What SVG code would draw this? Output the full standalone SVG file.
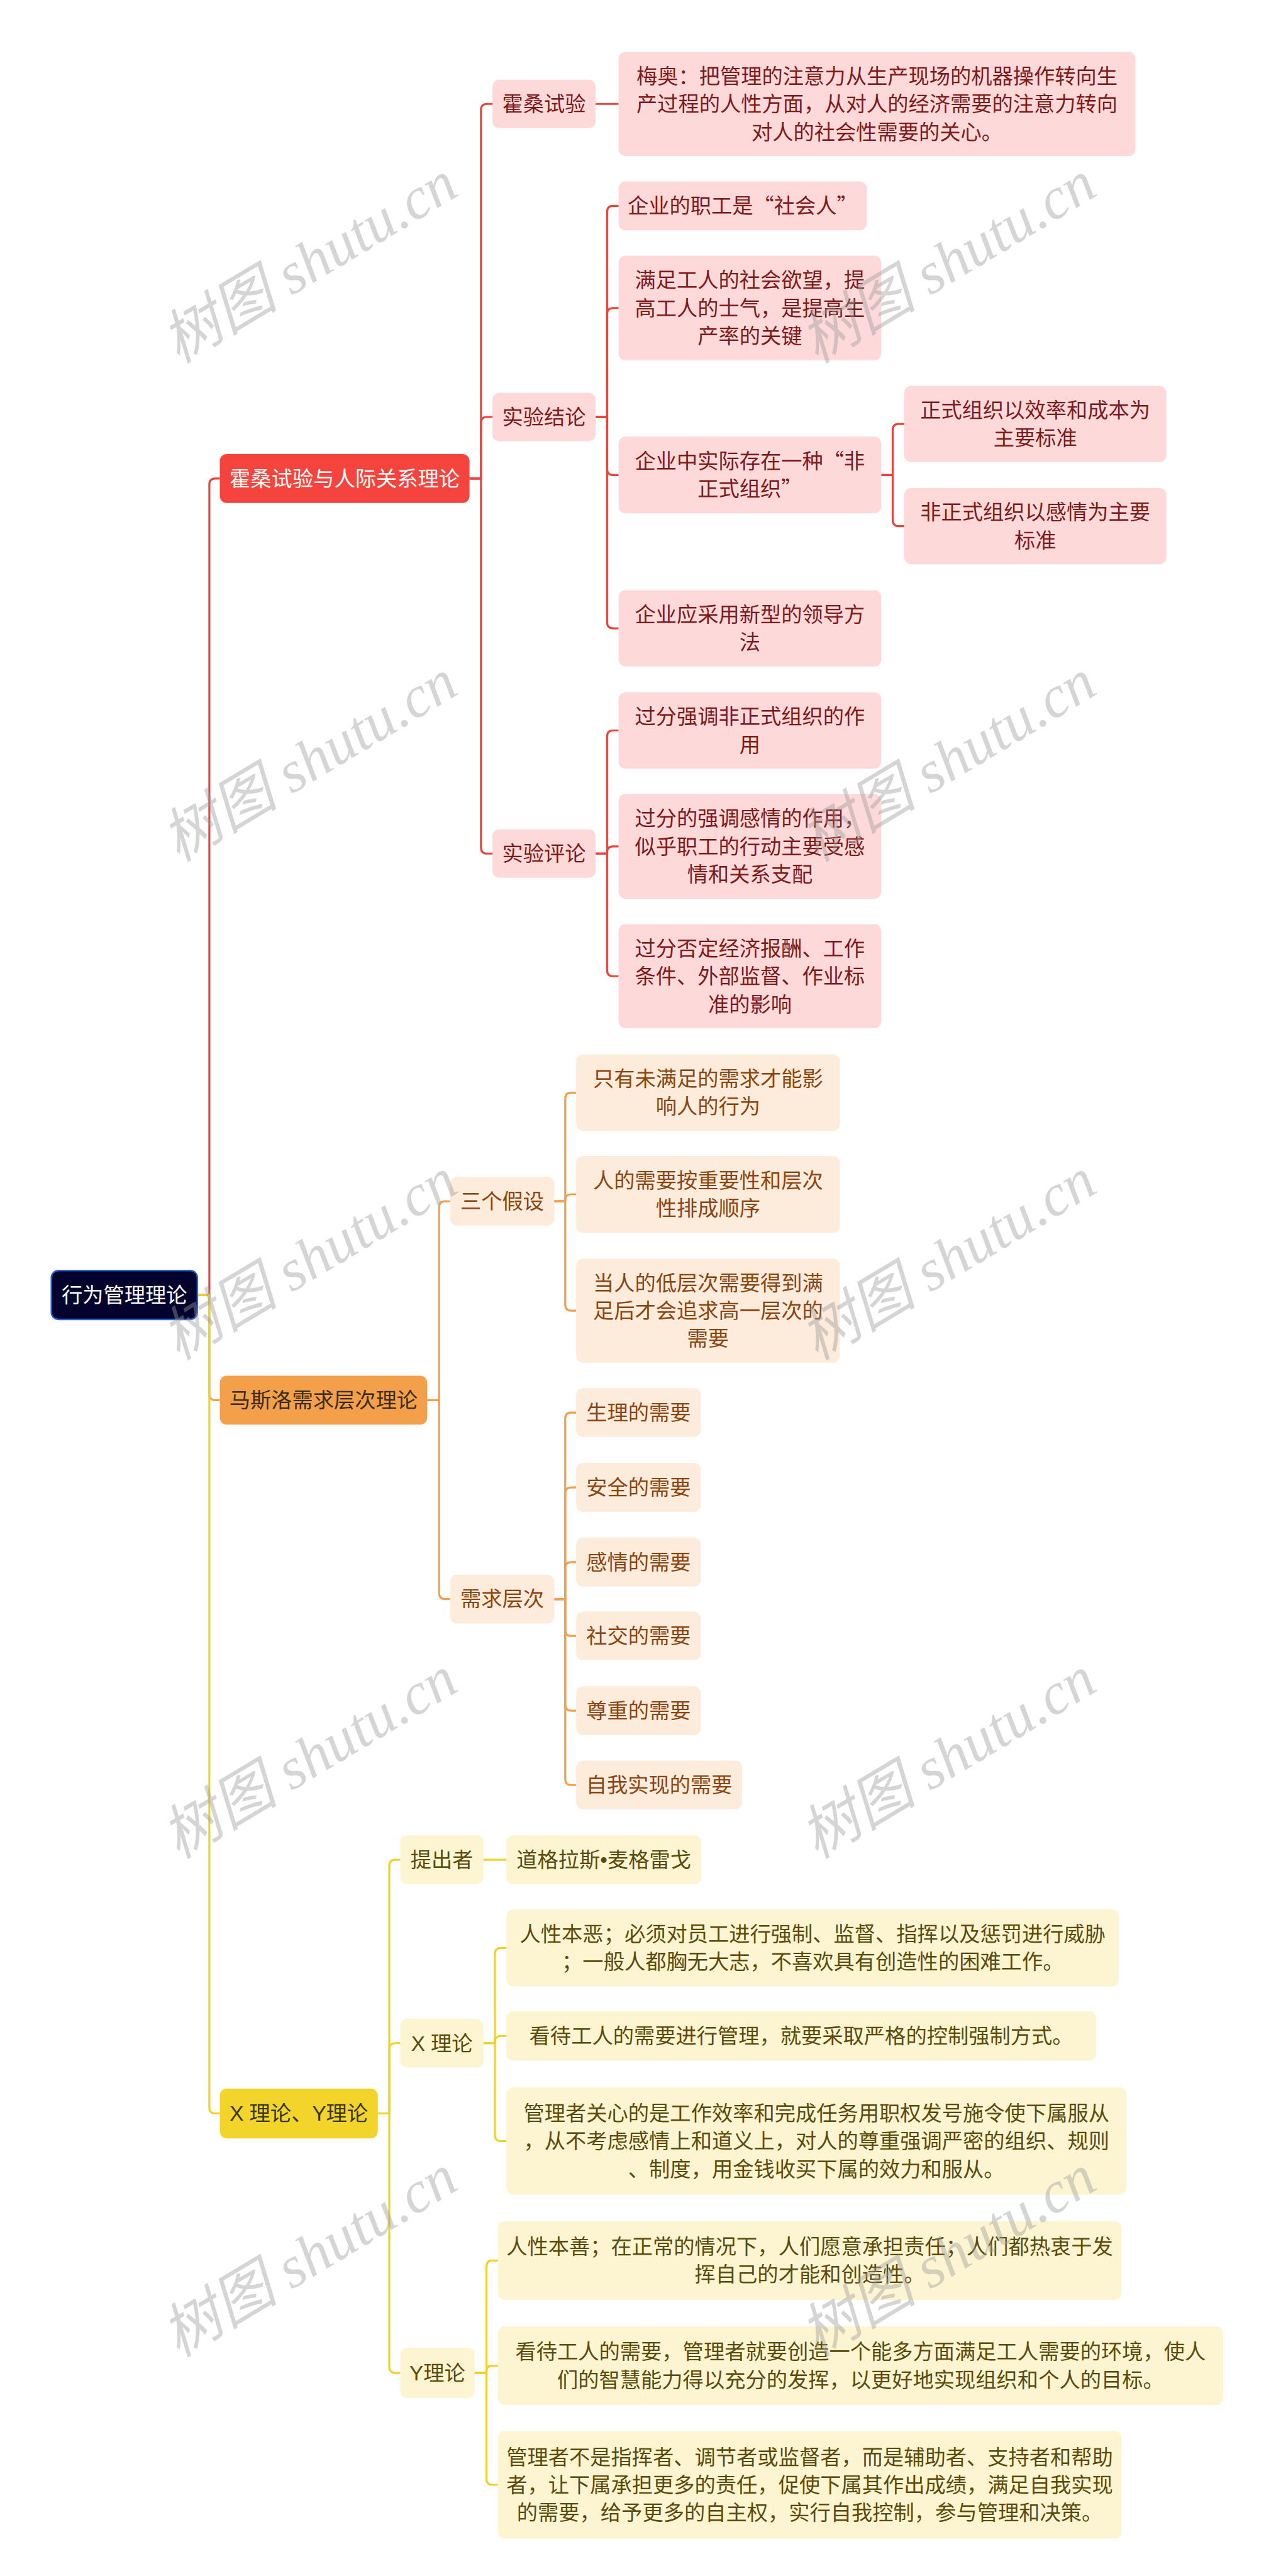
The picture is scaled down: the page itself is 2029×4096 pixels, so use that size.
<svg xmlns="http://www.w3.org/2000/svg" width="2029" height="4096" viewBox="0 0 2029 4096">
<style>
.t{font-family:"Liberation Sans","Noto Sans CJK SC",sans-serif;font-size:42px;text-anchor:middle}
.q{font-family:"Noto Sans CJK SC","Liberation Sans",sans-serif}
.rm{fill:#f4443d}.rl{fill:#fdd9d9}.rt{fill:#7d1a1a}.rw{fill:#ffffff}
.om{fill:#f4a04b}.ol{fill:#fdebdc}.ot{fill:#8a4511}.omt{fill:#3a2c18}
.ym{fill:#f2d42a}.yl{fill:#fdf5d2}.yt{fill:#5a4b0b}.ymt{fill:#3a3510}
.c{fill:none;stroke-width:4;stroke-linejoin:round}
.cr{stroke:#e8463d}.co{stroke:#f1a04e}.cy{stroke:#efd22c}
.wm{font-family:"Liberation Serif","Noto Sans CJK SC",serif;font-style:italic;font-size:118px;fill:#9a9a9a;fill-opacity:0.42;text-anchor:middle}
</style>
<rect width="2029" height="4096" fill="#ffffff"/>
<g transform="scale(0.792578)">
<g id="connectors">
<g class="c cr">
<path d="M396 2598H420V972Q420 960 432 960H441"/>
<path d="M942 960H965V220Q965 208.5 977 208.5H988"/>
<path d="M942 960H965V848.5Q965 836.5 977 836.5H988"/>
<path d="M942 960H965V1700.5Q965 1712.5 977 1712.5H988"/>
<path d="M1195 208.5H1241"/>
<path d="M1195 836.5H1218V425Q1218 413 1230 413H1241"/>
<path d="M1195 836.5H1218V630Q1218 618 1230 618H1241"/>
<path d="M1195 836.5H1218V941Q1218 953 1230 953H1241"/>
<path d="M1195 836.5H1218V1248.5Q1218 1260.5 1230 1260.5H1241"/>
<path d="M1768 953H1791V862.5Q1791 850.5 1803 850.5H1814"/>
<path d="M1768 953H1791V1043.5Q1791 1055.5 1803 1055.5H1814"/>
<path d="M1195 1712.5H1218V1477.5Q1218 1465.5 1230 1465.5H1241"/>
<path d="M1195 1712.5H1218V1710Q1218 1698 1230 1698H1241"/>
<path d="M1195 1712.5H1218V1946.5Q1218 1958.5 1230 1958.5H1241"/>
</g>
<g class="c co">
<path d="M396 2598H420V2797Q420 2809 432 2809H441"/>
<path d="M857 2809H881V2422Q881 2410 893 2410H903"/>
<path d="M857 2809H881V3196Q881 3208 893 3208H903"/>
<path d="M1112 2410H1134V2204Q1134 2192 1146 2192H1156"/>
<path d="M1112 2410H1134V2408Q1134 2396 1146 2396H1156"/>
<path d="M1112 2410H1134V2617.5Q1134 2629.5 1146 2629.5H1156"/>
<path d="M1112 3208H1134V2846Q1134 2834 1146 2834H1156"/>
<path d="M1112 3208H1134V2996Q1134 2984 1146 2984H1156"/>
<path d="M1112 3208H1134V3146Q1134 3134 1146 3134H1156"/>
<path d="M1112 3208H1134V3270Q1134 3282 1146 3282H1156"/>
<path d="M1112 3208H1134V3420Q1134 3432 1146 3432H1156"/>
<path d="M1112 3208H1134V3569Q1134 3581 1146 3581H1156"/>
</g>
<g class="c cy">
<path d="M396 2598H420V4228Q420 4240 432 4240H441"/>
<path d="M758 4240H781V3743Q781 3731 793 3731H803"/>
<path d="M758 4240H781V4111Q781 4099 793 4099H803"/>
<path d="M758 4240H781V4748.5Q781 4760.5 793 4760.5H803"/>
<path d="M970 3731H1016"/>
<path d="M970 4099H993V3920Q993 3908 1005 3908H1016"/>
<path d="M970 4099H993V4096.5Q993 4084.5 1005 4084.5H1016"/>
<path d="M970 4099H993V4283.5Q993 4295.5 1005 4295.5H1016"/>
<path d="M952 4760.5H976V4547Q976 4535 988 4535H999"/>
<path d="M952 4760.5H976V4758Q976 4746 988 4746H999"/>
<path d="M952 4760.5H976V4973Q976 4985 988 4985H999"/>
</g>
</g>

<g id="root"><rect x="103" y="2549" width="293" height="98" rx="14" fill="#03032e" stroke="#2e62c9" stroke-width="3"/><text class="t rw" x="249.5" y="2613">行为管理理论</text></g>

<g id="n-hawthorne-theory"><rect class="rm" x="441" y="911" width="501" height="98" rx="14"/><text class="t rw" x="691.5" y="975">霍桑试验与人际关系理论</text></g>
<g id="n-hawthorne"><rect class="rl" x="988" y="160" width="207" height="97" rx="14"/><text class="t rt" x="1091.5" y="223.5">霍桑试验</text></g>
<g id="n-mayo"><rect class="rl" x="1241" y="104" width="1037" height="209" rx="14"/><text class="t rt"><tspan x="1759.5" y="167.5">梅奥：把管理的注意力从生产现场的机器操作转向生</tspan><tspan x="1759.5" y="223.5">产过程的人性方面，从对人的经济需要的注意力转向</tspan><tspan x="1759.5" y="279.5">对人的社会性需要的关心。</tspan></text></g>
<g id="n-conclusion"><rect class="rl" x="988" y="788" width="207" height="97" rx="14"/><text class="t rt" x="1091.5" y="851.5">实验结论</text></g>
<g id="n-c1"><rect class="rl" x="1241" y="364" width="498" height="98" rx="14"/><text class="t rt q" x="1490" y="428">企业的职工是“社会人”</text></g>
<g id="n-c2"><rect class="rl" x="1241" y="513" width="527" height="210" rx="14"/><text class="t rt"><tspan x="1504.5" y="577">满足工人的社会欲望，提</tspan><tspan x="1504.5" y="633">高工人的士气，是提高生</tspan><tspan x="1504.5" y="689">产率的关键</tspan></text></g>
<g id="n-c3"><rect class="rl" x="1241" y="876" width="527" height="154" rx="14"/><text class="t rt q"><tspan x="1504.5" y="940">企业中实际存在一种“非</tspan><tspan x="1504.5" y="996">正式组织”</tspan></text></g>
<g id="n-c3a"><rect class="rl" x="1814" y="774" width="526" height="153" rx="14"/><text class="t rt"><tspan x="2077" y="837.5">正式组织以效率和成本为</tspan><tspan x="2077" y="893.5">主要标准</tspan></text></g>
<g id="n-c3b"><rect class="rl" x="1814" y="979" width="526" height="153" rx="14"/><text class="t rt"><tspan x="2077" y="1042.5">非正式组织以感情为主要</tspan><tspan x="2077" y="1098.5">标准</tspan></text></g>
<g id="n-c4"><rect class="rl" x="1241" y="1184" width="527" height="153" rx="14"/><text class="t rt"><tspan x="1504.5" y="1247.5">企业应采用新型的领导方</tspan><tspan x="1504.5" y="1303.5">法</tspan></text></g>
<g id="n-review"><rect class="rl" x="988" y="1664" width="207" height="97" rx="14"/><text class="t rt" x="1091.5" y="1727.5">实验评论</text></g>
<g id="n-r1"><rect class="rl" x="1241" y="1389" width="527" height="153" rx="14"/><text class="t rt"><tspan x="1504.5" y="1452.5">过分强调非正式组织的作</tspan><tspan x="1504.5" y="1508.5">用</tspan></text></g>
<g id="n-r2"><rect class="rl" x="1241" y="1593" width="527" height="210" rx="14"/><text class="t rt"><tspan x="1504.5" y="1657">过分的强调感情的作用，</tspan><tspan x="1504.5" y="1713">似乎职工的行动主要受感</tspan><tspan x="1504.5" y="1769">情和关系支配</tspan></text></g>
<g id="n-r3"><rect class="rl" x="1241" y="1854" width="527" height="209" rx="14"/><text class="t rt"><tspan x="1504.5" y="1917.5">过分否定经济报酬、工作</tspan><tspan x="1504.5" y="1973.5">条件、外部监督、作业标</tspan><tspan x="1504.5" y="2029.5">准的影响</tspan></text></g>

<g id="n-maslow"><rect class="om" x="441" y="2760" width="416" height="98" rx="14"/><text class="t omt" x="649" y="2824">马斯洛需求层次理论</text></g>
<g id="n-assume"><rect class="ol" x="903" y="2361" width="209" height="98" rx="14"/><text class="t ot" x="1007.5" y="2425">三个假设</text></g>
<g id="n-a1"><rect class="ol" x="1156" y="2115" width="529" height="154" rx="14"/><text class="t ot"><tspan x="1420.5" y="2179">只有未满足的需求才能影</tspan><tspan x="1420.5" y="2235">响人的行为</tspan></text></g>
<g id="n-a2"><rect class="ol" x="1156" y="2319" width="529" height="154" rx="14"/><text class="t ot"><tspan x="1420.5" y="2383">人的需要按重要性和层次</tspan><tspan x="1420.5" y="2439">性排成顺序</tspan></text></g>
<g id="n-a3"><rect class="ol" x="1156" y="2525" width="529" height="209" rx="14"/><text class="t ot"><tspan x="1420.5" y="2588.5">当人的低层次需要得到满</tspan><tspan x="1420.5" y="2644.5">足后才会追求高一层次的</tspan><tspan x="1420.5" y="2700.5">需要</tspan></text></g>
<g id="n-levels"><rect class="ol" x="903" y="3159" width="209" height="98" rx="14"/><text class="t ot" x="1007.5" y="3223">需求层次</text></g>
<g id="n-l1"><rect class="ol" x="1156" y="2785" width="250" height="98" rx="14"/><text class="t ot" x="1281" y="2849">生理的需要</text></g>
<g id="n-l2"><rect class="ol" x="1156" y="2935" width="250" height="98" rx="14"/><text class="t ot" x="1281" y="2999">安全的需要</text></g>
<g id="n-l3"><rect class="ol" x="1156" y="3085" width="250" height="98" rx="14"/><text class="t ot" x="1281" y="3149">感情的需要</text></g>
<g id="n-l4"><rect class="ol" x="1156" y="3233" width="250" height="98" rx="14"/><text class="t ot" x="1281" y="3297">社交的需要</text></g>
<g id="n-l5"><rect class="ol" x="1156" y="3383" width="250" height="98" rx="14"/><text class="t ot" x="1281" y="3447">尊重的需要</text></g>
<g id="n-l6"><rect class="ol" x="1156" y="3532" width="333" height="98" rx="14"/><text class="t ot" x="1322.5" y="3596">自我实现的需要</text></g>

<g id="n-xy"><rect class="ym" x="441" y="4190" width="317" height="100" rx="14"/><text class="t ymt" x="599.5" y="4255">X 理论、Y理论</text></g>
<g id="n-proposer"><rect class="yl" x="803" y="3682" width="167" height="98" rx="14"/><text class="t yt" x="886.5" y="3746">提出者</text></g>
<g id="n-mcgregor"><rect class="yl" x="1016" y="3682" width="391" height="98" rx="14"/><text class="t yt" x="1211.5" y="3746">道格拉斯•麦格雷戈</text></g>
<g id="n-x"><rect class="yl" x="803" y="4050" width="167" height="98" rx="14"/><text class="t yt" x="886.5" y="4114">X 理论</text></g>
<g id="n-x1"><rect class="yl" x="1016" y="3831" width="1229" height="154" rx="14"/><text class="t yt"><tspan x="1630.5" y="3895">人性本恶；必须对员工进行强制、监督、指挥以及惩罚进行威胁</tspan><tspan x="1630.5" y="3951">；一般人都胸无大志，不喜欢具有创造性的困难工作。</tspan></text></g>
<g id="n-x2"><rect class="yl" x="1016" y="4035" width="1183" height="99" rx="14"/><text class="t yt" x="1607.5" y="4099.5">看待工人的需要进行管理，就要采取严格的控制强制方式。</text></g>
<g id="n-x3"><rect class="yl" x="1016" y="4188" width="1244" height="215" rx="14"/><text class="t yt"><tspan x="1638" y="4254.5">管理者关心的是工作效率和完成任务用职权发号施令使下属服从</tspan><tspan x="1638" y="4310.5">，从不考虑感情上和道义上，对人的尊重强调严密的组织、规则</tspan><tspan x="1638" y="4366.5">、制度，用金钱收买下属的效力和服从。</tspan></text></g>
<g id="n-y"><rect class="yl" x="803" y="4710" width="149" height="101" rx="14"/><text class="t yt" x="877.5" y="4775.5">Y理论</text></g>
<g id="n-y1"><rect class="yl" x="999" y="4456" width="1251" height="158" rx="14"/><text class="t yt"><tspan x="1624.5" y="4522">人性本善；在正常的情况下，人们愿意承担责任；人们都热衷于发</tspan><tspan x="1624.5" y="4578">挥自己的才能和创造性。</tspan></text></g>
<g id="n-y2"><rect class="yl" x="999" y="4667" width="1455" height="158" rx="14"/><text class="t yt"><tspan x="1726.5" y="4733">看待工人的需要，管理者就要创造一个能多方面满足工人需要的环境，使人</tspan><tspan x="1726.5" y="4789">们的智慧能力得以充分的发挥，以更好地实现组织和个人的目标。</tspan></text></g>
<g id="n-y3"><rect class="yl" x="999" y="4877" width="1251" height="216" rx="14"/><text class="t yt"><tspan x="1624.5" y="4944">管理者不是指挥者、调节者或监督者，而是辅助者、支持者和帮助</tspan><tspan x="1624.5" y="5000">者，让下属承担更多的责任，促使下属其作出成绩，满足自我实现</tspan><tspan x="1624.5" y="5056">的需要，给予更多的自主权，实行自我控制，参与管理和决策。</tspan></text></g>

<g id="watermarks">
<text class="wm" transform="translate(641 560) rotate(-31)">树图 shutu.cn</text>
<text class="wm" transform="translate(1922 560) rotate(-31)">树图 shutu.cn</text>
<text class="wm" transform="translate(641 1560) rotate(-31)">树图 shutu.cn</text>
<text class="wm" transform="translate(1922 1560) rotate(-31)">树图 shutu.cn</text>
<text class="wm" transform="translate(641 2560) rotate(-31)">树图 shutu.cn</text>
<text class="wm" transform="translate(1922 2560) rotate(-31)">树图 shutu.cn</text>
<text class="wm" transform="translate(641 3560) rotate(-31)">树图 shutu.cn</text>
<text class="wm" transform="translate(1922 3560) rotate(-31)">树图 shutu.cn</text>
<text class="wm" transform="translate(641 4560) rotate(-31)">树图 shutu.cn</text>
<text class="wm" transform="translate(1922 4560) rotate(-31)">树图 shutu.cn</text>
</g>
</g>
</svg>
